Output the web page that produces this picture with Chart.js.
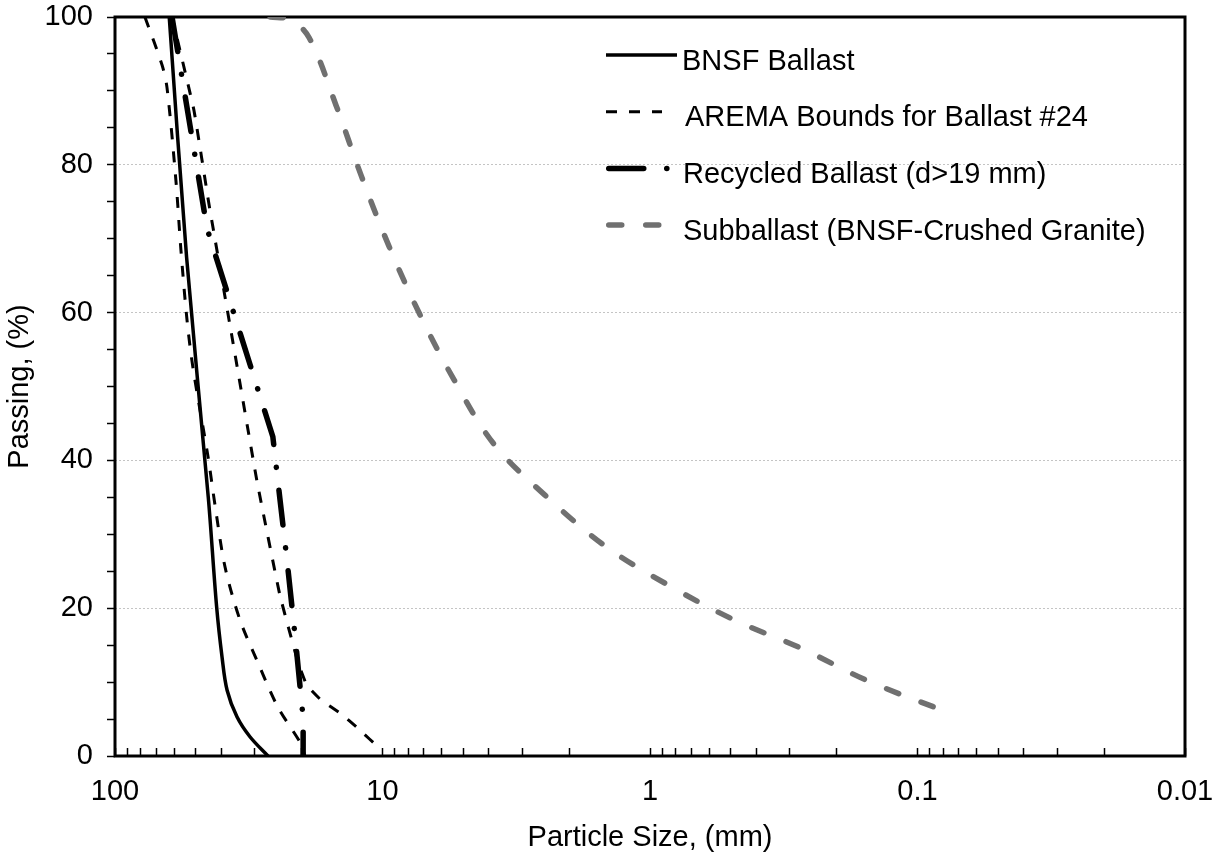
<!DOCTYPE html>
<html>
<head>
<meta charset="utf-8">
<title>Gradation curves</title>
<script src="https://cdn.jsdelivr.net/npm/chart.js@4.4.1/dist/chart.umd.min.js"></script>
<style>
  html, body { margin: 0; padding: 0; background: #fff; }
  #gradationChart { display: block; }
</style>
</head>
<body>
<canvas id="gradationChart" width="1214" height="852"></canvas>
<script>
// sieve size (mm) vs. percent passing
const bnsfSize = [62.7, 54.0, 44.8, 41.7, 39.8, 38.1, 35.0, 31.3, 26.8];
const bnsfPassing = [100, 67.5, 35.0, 20.2, 13.4, 8.9, 5.3, 2.6, 0];

const aremaCoarseSize = [77.3, 66.7, 63.9, 59.2, 56.7, 53.8, 51.1, 44.9, 42.3, 38.8, 34.1, 29.2, 24.6, 20.3, 19.5];
const aremaCoarsePassing = [100, 93.5, 90.4, 77.9, 68.5, 59.0, 52.5, 40.5, 34.0, 25.6, 18.4, 12.6, 6.6, 1.8, 0];

const aremaFineSize = [61.2, 50.7, 44.5, 36.2, 29.5, 24.2, 20.7, 19.2, 17.0, 14.4, 12.4, 10.1];
const aremaFinePassing = [100, 87.4, 74.6, 55.9, 37.3, 21.8, 12.7, 9.6, 7.6, 5.8, 3.8, 0.8];

const recycledSize = [61.2, 45.3, 25.7, 24.2, 22.8, 21.2, 19.8, 19.8];
const recycledPassing = [100, 71.4, 43.2, 34.9, 26.8, 16.1, 5.1, 0];

const subballastSize = [26.3, 22.2, 18.8, 14.9, 12.0, 9.46, 7.24, 5.40, 3.83, 2.47, 1.47, 0.871, 0.490, 0.273, 0.152, 0.0782];
const subballastPassing = [100, 99.7, 97.2, 88.0, 78.5, 69.0, 59.7, 50.9, 42.2, 35.3, 28.4, 23.3, 18.5, 14.6, 10.1, 6.0];

// axis ticks
const xDecades = [0.01, 0.1, 1, 10];
const xMultipliers = [1, 2, 3, 4, 5, 6, 7, 8, 9];
const xMax = 100;
const yGridValues = [20, 40, 60, 80];

const legendLabels = [
  "BNSF Ballast",
  "AREMA Bounds for Ballast #24",
  "Recycled Ballast (d>19 mm)",
  "Subballast (BNSF-Crushed Granite)"
];

const FONT = '"Liberation Sans", Arial, sans-serif';

function toPoints(sizes, passing) {
  return sizes.map((x, i) => ({ x, y: passing[i] }));
}

function xTickList() {
  const ticks = [];
  xDecades.forEach(d => xMultipliers.forEach(m => {
    ticks.push({ value: +(d * m).toPrecision(6) });
  }));
  ticks.push({ value: xMax });
  return ticks;
}

function decadeLabel(v) {
  const e = Math.log10(v);
  if (Math.abs(e - Math.round(e)) > 1e-6) return "";
  return String(Math.pow(10, Math.round(e)));
}

// legend rows: which dataset supplies the line style, sample length, text x
const legendRows = [
  { dataset: 0, sample: 71, textX: 682 },
  { dataset: 1, sample: 56, textX: 685 },
  { dataset: 3, sample: 59.5, textX: 683 },
  { dataset: 4, sample: 50, textX: 683 }
];

const framePlugin = {
  id: "frameAndLegend",
  beforeDatasetsDraw(chart) {
    const { ctx, chartArea: a } = chart;
    ctx.save();
    ctx.strokeStyle = "#000";
    ctx.lineWidth = 3;
    ctx.strokeRect(a.left, a.top, a.right - a.left, a.bottom - a.top);
    ctx.restore();
  },
  afterDatasetsDraw(chart) {
    const ctx = chart.ctx;
    legendRows.forEach((row, i) => {
      const ds = chart.data.datasets[row.dataset];
      const y = 55 + i * 56.7;
      const w = ds.borderWidth;
      const round = ds.borderCapStyle === "round";
      const x0 = 606 + (round ? w / 2 : 0);
      ctx.save();
      ctx.strokeStyle = ds.borderColor;
      ctx.lineWidth = w;
      ctx.lineCap = ds.borderCapStyle || "butt";
      ctx.setLineDash(ds.borderDash || []);
      ctx.beginPath();
      ctx.moveTo(x0, y);
      ctx.lineTo(x0 + row.sample, y);
      ctx.stroke();
      ctx.setLineDash([]);
      ctx.fillStyle = "#000";
      ctx.font = "29px " + FONT;
      ctx.textBaseline = "alphabetic";
      ctx.fillText(legendLabels[i], row.textX, y + 14.5);
      ctx.restore();
    });
  }
};

window.addEventListener("DOMContentLoaded", () => {
  const black = "#000000";
  const grey = "#707070";

  new Chart(document.getElementById("gradationChart"), {
    type: "line",
    data: {
      datasets: [
        {
          label: legendLabels[0],
          data: toPoints(bnsfSize, bnsfPassing),
          borderColor: black,
          borderWidth: 3.5,
          tension: 0.35
        },
        {
          label: legendLabels[1],
          data: toPoints(aremaCoarseSize, aremaCoarsePassing),
          borderColor: black,
          borderWidth: 3,
          borderDash: [11, 12],
          tension: 0.3
        },
        {
          label: legendLabels[1] + " (fine)",
          data: toPoints(aremaFineSize, aremaFinePassing),
          borderColor: black,
          borderWidth: 3,
          borderDash: [11, 12],
          tension: 0.1
        },
        {
          label: legendLabels[2],
          data: toPoints(recycledSize, recycledPassing),
          borderColor: black,
          borderWidth: 5.5,
          borderDash: [35, 23, 0.1, 23],
          borderCapStyle: "round",
          tension: 0
        },
        {
          label: legendLabels[3],
          data: toPoints(subballastSize, subballastPassing),
          borderColor: grey,
          borderWidth: 5.5,
          borderDash: [13, 24],
          borderCapStyle: "round",
          tension: 0.35
        }
      ]
    },
    options: {
      responsive: false,
      animation: false,
      devicePixelRatio: 1,
      layout: { padding: { left: 0, top: 0, right: 29, bottom: 0 } },
      elements: { point: { radius: 0, hoverRadius: 0 } },
      scales: {
        x: {
          type: "logarithmic",
          reverse: true,
          min: 0.01,
          max: xMax,
          afterBuildTicks: scale => { scale.ticks = xTickList(); },
          afterFit: scale => { scale.height = 96; },
          border: { display: false },
          grid: {
            drawOnChartArea: false,
            drawTicks: true,
            tickLength: -8,
            tickColor: black,
            tickWidth: 1.5
          },
          ticks: {
            autoSkip: false,
            maxRotation: 0,
            minRotation: 0,
            padding: 27,
            color: black,
            font: { family: FONT, size: 29 },
            callback: v => decadeLabel(v)
          },
          title: {
            display: true,
            text: "Particle Size, (mm)",
            color: black,
            font: { family: FONT, size: 29, lineHeight: 1 },
            padding: { top: 0, bottom: 0 }
          }
        },
        y: {
          min: 0,
          max: 100,
          afterFit: scale => {
            scale.width = 115;
            scale.paddingTop = 17;
            scale.paddingBottom = 0;
          },
          border: { display: false, dash: [2, 2] },
          grid: {
            color: ctx => (ctx.tick && yGridValues.includes(ctx.tick.value)) ? "#c4c4c4" : "transparent",
            lineWidth: 1,
            drawTicks: true,
            tickLength: 8,
            tickColor: black,
            tickWidth: 1.5
          },
          ticks: {
            stepSize: 5,
            autoSkip: false,
            padding: 14,
            color: black,
            font: { family: FONT, size: 29 },
            callback: v => (v % 20 === 0 ? String(v) : "")
          },
          title: {
            display: true,
            text: "Passing, (%)",
            color: black,
            font: { family: FONT, size: 29, lineHeight: 1 },
            padding: { top: 5, bottom: 0 }
          }
        }
      },
      plugins: {
        legend: { display: false },
        tooltip: { enabled: false }
      }
    },
    plugins: [framePlugin]
  });
});
</script>
</body>
</html>
